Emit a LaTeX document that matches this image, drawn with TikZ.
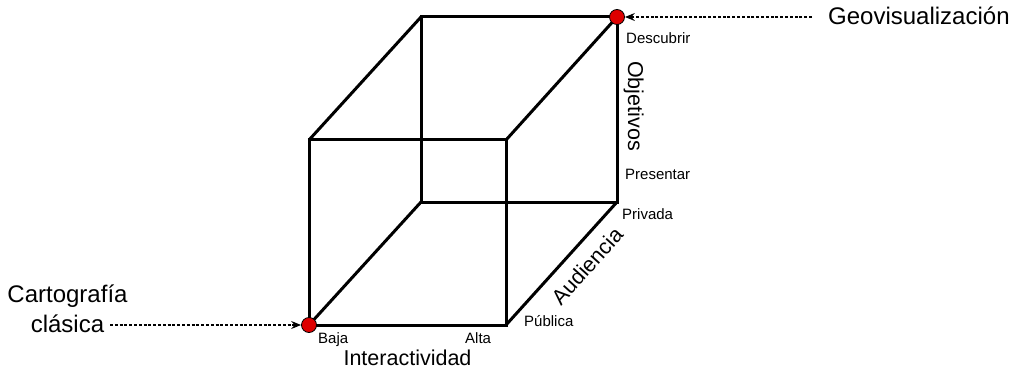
\documentclass[tikz,border=0pt]{standalone}
\usepackage{fontspec}
\setmainfont{Liberation Sans}
\usetikzlibrary{positioning,arrows.meta,calc}
\definecolor{dotred}{RGB}{222,0,0}

\begin{document}
\begin{tikzpicture}[x=1pt, y=1pt]
  \tikzset{
      edge/.style={line width=3pt},
      corner/.style={circle, draw, line width=0.8pt, fill=dotred, minimum size=15pt, inner sep=0pt},
      pointer/.style={line width=1.1pt, dash pattern=on 3pt off 1.8pt, -{Stealth[length=10pt, width=8pt, inset=3.5pt]}},
      small/.style={inner sep=0pt, font=\fontsize{15}{18}\selectfont},
      axis/.style={inner sep=0pt, font=\fontsize{21.5}{26}\selectfont},
      big/.style={inner sep=0pt, align=center, font=\fontsize{24}{30}\selectfont}
  }
  \useasboundingbox (0,0) rectangle (1022,370);

  % cube corners
  \coordinate (f1) at (309,45);
  \coordinate (f2) at (506,45);
  \coordinate (f3) at (506,230);
  \coordinate (f4) at (309,230);
  \coordinate (b1) at (421,168);
  \coordinate (b2) at (617,168);
  \coordinate (b3) at (617,353);
  \coordinate (b4) at (421,353);

  \draw[edge] (f1) -- (f2) -- (f3) -- (f4) -- cycle;
  \draw[edge] (b1) -- (b2) -- (b3) -- (b4) -- cycle;
  \draw[edge] (f1) -- (b1) (f2) -- (b2) (f3) -- (b3) (f4) -- (b4);

  \node[corner] (lo) at (f1) {};
  \node[corner] (hi) at (b3) {};

  % axis labels
  \node[small, anchor=base west] (desc) at (626,326) {Descubrir};
  \node[axis, anchor=base, rotate=-90] (obj) at (628,264) {Objetivos};
  \node[small, anchor=base west] (pres) at (625,191) {Presentar};
  \node[small, anchor=base west] (priv) at (622,151) {Privada};
  \node[axis, rotate=48] (aud) at (587,104) {Audiencia};
  \node[small, anchor=base west] (pub) at (524,44) {Pública};
  \node[small, anchor=base west] (baja) at (318,27) {Baja};
  \node[small, anchor=base west] (alta) at (465,27) {Alta};
  \node[axis, anchor=base] (inter) at (407.5,5) {Interactividad};

  % cases
  \node[big, anchor=base west] (geo) at (828,345) {Geovisualización};
  \node[big, anchor=base] (cart) at (67.5,37.5) {Cartografía\\clásica};
  \coordinate (gstart) at (812,353);
  \coordinate (cstart) at (110,45);
  \draw[pointer] (gstart) -- (hi);
  \draw[pointer] (cstart) -- (lo);
\end{tikzpicture}
\end{document}
